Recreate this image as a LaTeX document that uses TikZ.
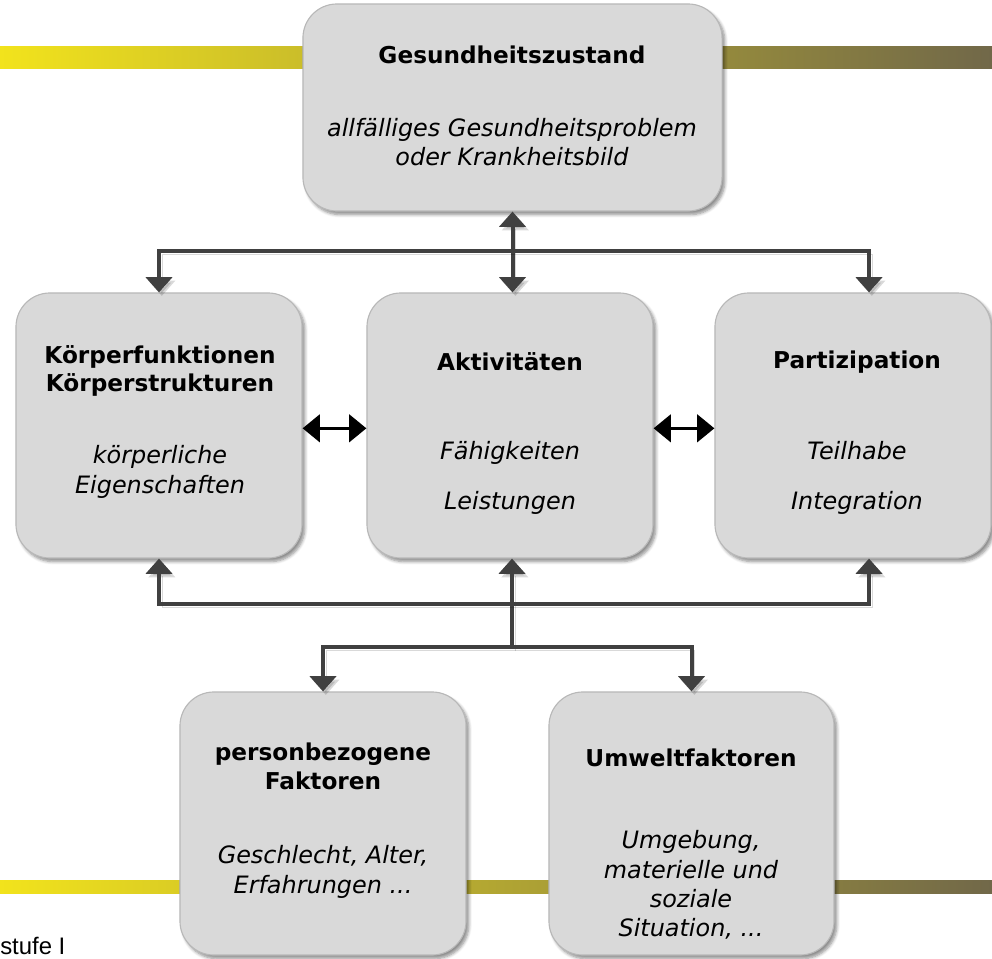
\documentclass[tikz,border=0pt]{standalone}
\usepackage{fontspec}
\setmainfont{DejaVu Sans}
\newfontfamily\arialfont{Liberation Sans}
\usepackage{xcolor}
\usetikzlibrary{arrows.meta,shadows.blur}
\definecolor{boxgray}{HTML}{D9D9D9}
\definecolor{boxline}{HTML}{B8B8B8}
\definecolor{connector}{HTML}{404040}
\definecolor{barleft}{HTML}{F2E31C}
\definecolor{barmid}{HTML}{BDB13A}
\definecolor{barright}{HTML}{716849}

\begin{document}
\begin{tikzpicture}[x=0.025cm,y=-0.025cm,
    box/.style={draw=boxline,line width=0.8pt,fill=boxgray,rounded corners=0.85cm,inner sep=0pt,
        blur shadow={shadow xshift=2pt,shadow yshift=-2.5pt,shadow blur steps=6,shadow opacity=45}},
    title/.style={font=\fontsize{16.5}{20.5}\selectfont\bfseries,align=center},
    desc/.style={font=\fontsize{17}{20.8}\selectfont\itshape,align=center},
    conn/.style={draw=connector,line width=0.1cm,>={Triangle[width=0.65cm,length=0.38cm]},->,
        preaction={draw=black,opacity=0.15,transform canvas={xshift=2pt,yshift=-2.5pt}}},
    both/.style={draw=black,line width=0.09cm,{Triangle[width=0.68cm,length=0.43cm]}-{Triangle[width=0.68cm,length=0.43cm]}}]
    \useasboundingbox (0,0) rectangle (992,959);

    \shade[left color=barleft,middle color=barmid,right color=barright] (0,47) rectangle (992,69);
    \shade[left color=barleft,middle color=barmid,right color=barright] (0,880) rectangle (992,893);

    \node[box,minimum width=10.475cm,minimum height=5.175cm] (gz) at (512.5,107.5) {};
    \node[box,minimum width=7.15cm,minimum height=6.625cm] (koerper) at (159,425.5) {};
    \node[box,minimum width=7.15cm,minimum height=6.625cm] (akt) at (510,425.5) {};
    \node[box,minimum width=6.9cm,minimum height=6.625cm] (part) at (853,425.5) {};
    \node[box,minimum width=7.15cm,minimum height=6.575cm] (pers) at (323,823.5) {};
    \node[box,minimum width=7.125cm,minimum height=6.575cm] (umw) at (691.5,823.5) {};

    \coordinate (topJoin) at (513,251);
    \coordinate (midJoin) at (512,604);
    \coordinate (lowJoin) at (512,647);
    \draw[conn,<->] (gz.south) -- (gz.south |- akt.north);
    \draw[conn] (topJoin) -| (koerper.north);
    \draw[conn] (topJoin) -| ([xshift=0.4cm]part.north);
    \draw[conn] (lowJoin) -- (lowJoin |- akt.south);
    \draw[conn] (midJoin) -| (koerper.south);
    \draw[conn] (midJoin) -| ([xshift=0.4cm]part.south);
    \draw[conn] (lowJoin) -| (pers.north);
    \draw[conn] (lowJoin) -| (umw.north);

    \draw[both] ([yshift=-2pt]koerper.east) -- ([yshift=-2pt]akt.west);
    \draw[both] ([yshift=-2pt]akt.east) -- ([yshift=-2pt]part.west);

    \node[title] (gzTitle) at (512,55) {Gesundheitszustand};
    \node[desc] (gzDesc) at (512,142) {allfälliges Gesundheitsproblem\\oder Krankheitsbild};
    \node[title] (koerperTitle) at (160,371) {Körperfunktionen\\Körperstrukturen};
    \node[desc] (koerperDesc) at (160,472) {körperliche\\Eigenschaften};
    \node[title] (aktTitle) at (510,362) {Aktivitäten};
    \node[desc] (aktDesc) at (510,478) {Fähigkeiten\\[15pt]Leistungen};
    \node[title] (partTitle) at (857,362) {Partizipation};
    \node[desc] (partDesc) at (857,478) {Teilhabe\\[15pt]Integration};
    \node[title] (persTitle) at (323,766) {personbezogene\\Faktoren};
    \node[desc] (persDesc) at (323,872) {Geschlecht, Alter,\\Erfahrungen ...};
    \node[title] (umwTitle) at (691,758) {Umweltfaktoren};
    \node[desc] (umwDesc) at (691,885) {Umgebung,\\materielle und\\soziale\\Situation, ...};

    \node[anchor=base west,inner sep=0pt,font=\arialfont\fontsize{17}{20}\selectfont] (stufe) at (0,954) {stufe I};
\end{tikzpicture}
\end{document}
